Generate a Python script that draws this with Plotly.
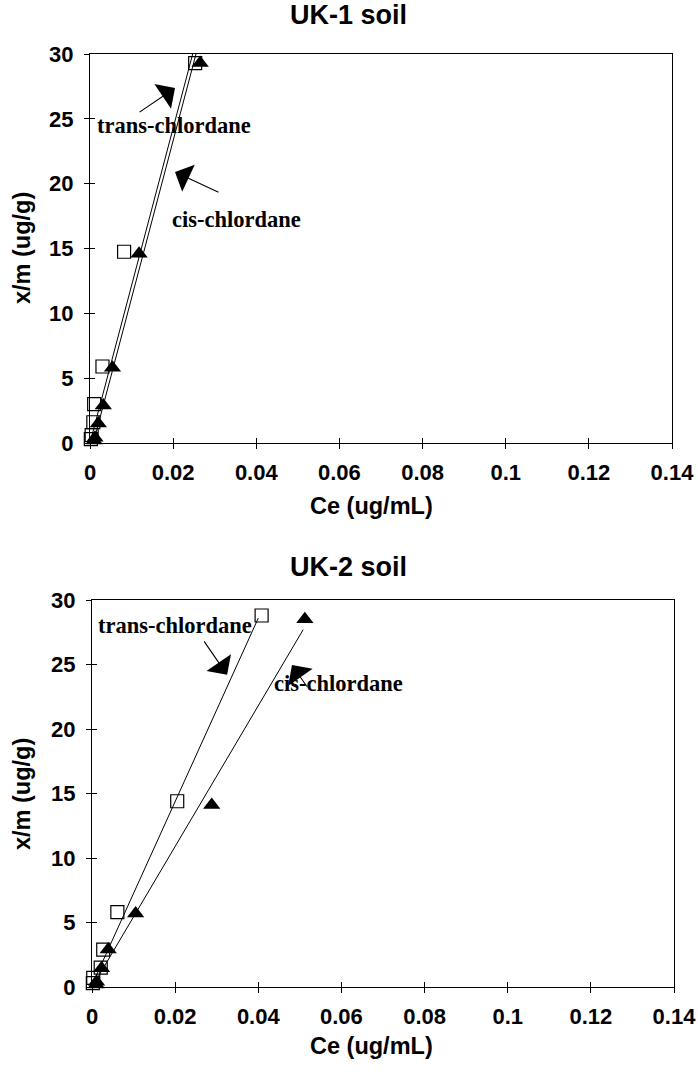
import plotly.graph_objects as go

# ---- data ----
uk1_trans_ce = [0.0002, 0.0004, 0.0008, 0.0010, 0.0030, 0.0082, 0.0253]
uk1_trans_xm = [0.3, 0.6, 1.6, 3.0, 5.9, 14.75, 29.3]
uk1_cis_ce = [0.0010, 0.0012, 0.0020, 0.0032, 0.0054, 0.0118, 0.0265]
uk1_cis_xm = [0.2, 0.4, 1.5, 2.9, 5.8, 14.6, 29.3]
uk1_trans_fit_ce = [0.0, 0.0247]
uk1_trans_fit_xm = [0.0, 30.0]
uk1_cis_fit_ce = [0.0008, 0.0255]
uk1_cis_fit_xm = [0.0, 30.0]

uk2_trans_ce = [0.0002, 0.0003, 0.0021, 0.0027, 0.0061, 0.0205, 0.0408]
uk2_trans_xm = [0.3, 0.7, 1.5, 2.9, 5.8, 14.4, 28.8]
uk2_cis_ce = [0.0010, 0.0011, 0.0023, 0.0039, 0.0105, 0.0288, 0.0512]
uk2_cis_xm = [0.2, 0.4, 1.45, 2.9, 5.7, 14.1, 28.5]
uk2_trans_fit_ce = [0.0, 0.0400]
uk2_trans_fit_xm = [0.15, 28.6]
uk2_cis_fit_ce = [0.0003, 0.0508]
uk2_cis_fit_xm = [0.15, 27.7]

x_ticks = [0, 0.02, 0.04, 0.06, 0.08, 0.1, 0.12, 0.14]
x_ticklabels = ["0", "0.02", "0.04", "0.06", "0.08", "0.1", "0.12", "0.14"]
y_ticks = [0, 5, 10, 15, 20, 25, 30]

W, H = 698, 1072
fig = go.Figure()

def px_x(p):
    return p / W

def px_y(p):
    return 1 - p / H

panels = [
    dict(xa="x", ya="y", xa2="x3", ya2="y3", xd=(90, 672), yd=(54, 443),
         tce=uk1_trans_ce, txm=uk1_trans_xm, cce=uk1_cis_ce, cxm=uk1_cis_xm,
         tfx=uk1_trans_fit_ce, tfy=uk1_trans_fit_xm, cfx=uk1_cis_fit_ce, cfy=uk1_cis_fit_xm),
    dict(xa="x2", ya="y2", xa2="x4", ya2="y4", xd=(92, 674), yd=(600, 987),
         tce=uk2_trans_ce, txm=uk2_trans_xm, cce=uk2_cis_ce, cxm=uk2_cis_xm,
         tfx=uk2_trans_fit_ce, tfy=uk2_trans_fit_xm, cfx=uk2_cis_fit_ce, cfy=uk2_cis_fit_xm),
]

tickfont = dict(family="Liberation Sans, Arial", size=22, color="black", weight="bold")

for i, p in enumerate(panels):
    fig.add_trace(go.Scatter(x=p["tfx"], y=p["tfy"], mode="lines", line=dict(color="black", width=1),
                             xaxis=p["xa"], yaxis=p["ya"], showlegend=False, cliponaxis=True))
    fig.add_trace(go.Scatter(x=p["cfx"], y=p["cfy"], mode="lines", line=dict(color="black", width=1),
                             xaxis=p["xa"], yaxis=p["ya"], showlegend=False, cliponaxis=True))
    fig.add_trace(go.Scatter(x=p["tce"], y=p["txm"], mode="markers",
                             marker=dict(symbol="square-open", size=13, color="black", line=dict(width=1.2)),
                             xaxis=p["xa"], yaxis=p["ya"], showlegend=False, cliponaxis=False))
    fig.add_trace(go.Scatter(x=p["cce"], y=p["cxm"], mode="markers",
                             marker=dict(symbol="triangle-up", size=15, color="black"),
                             xaxis=p["xa"], yaxis=p["ya"], showlegend=False, cliponaxis=False))
    fig.add_trace(go.Scatter(x=[None], y=[None], xaxis=p["xa2"], yaxis=p["ya2"], showlegend=False,
                             hoverinfo="skip"))

    xd = [px_x(p["xd"][0]), px_x(p["xd"][1])]
    yd = [px_y(p["yd"][1]), px_y(p["yd"][0])]
    xn = "xaxis" + ("" if p["xa"] == "x" else p["xa"][1:])
    yn = "yaxis" + ("" if p["ya"] == "y" else p["ya"][1:])
    xn2 = "xaxis" + p["xa2"][1:]
    yn2 = "yaxis" + p["ya2"][1:]
    fig.update_layout(**{
        xn: dict(domain=xd, anchor=p["ya"], range=[0, 0.14], tickvals=x_ticks, ticktext=x_ticklabels,
                 ticks="outside", ticklen=5, tickwidth=1, tickcolor="black",
                 showline=True, linecolor="black", linewidth=1, mirror=True,
                 showgrid=False, zeroline=False, tickfont=tickfont, ticklabelstandoff=5),
        yn: dict(domain=yd, anchor=p["xa"], range=[0, 30], tickvals=y_ticks,
                 ticks="outside", ticklen=5, tickwidth=1, tickcolor="black",
                 showline=True, linecolor="black", linewidth=1, mirror=True,
                 showgrid=False, zeroline=False, tickfont=tickfont, ticklabelstandoff=6),
        xn2: dict(overlaying=p["xa"], anchor=p["ya2"], domain=xd, range=[0, 0.14], tickvals=x_ticks,
                  showticklabels=False, ticks="inside", ticklen=5, tickwidth=1, tickcolor="black",
                  showline=False, showgrid=False, zeroline=False),
        yn2: dict(overlaying=p["ya"], anchor=p["xa2"], domain=yd, range=[0, 30], tickvals=y_ticks,
                  showticklabels=False, ticks="inside", ticklen=5, tickwidth=1, tickcolor="black",
                  showline=False, showgrid=False, zeroline=False),
    })

titlefont = dict(family="Liberation Sans, Arial", size=27, color="black", weight="bold")
axfont = dict(family="Liberation Sans, Arial", size=23.5, color="black", weight="bold")
annfont = dict(family="Liberation Serif, Times New Roman", size=22.5, color="black", weight="bold")

anns = []
for title, ty, cx_y, yt_y in [("UK-1 soil", 15, 506, 248), ("UK-2 soil", 567, 1046, 794)]:
    anns.append(dict(text=title, x=px_x(348), y=px_y(ty), xref="paper", yref="paper",
                     showarrow=False, font=titlefont, xanchor="center", yanchor="middle"))
    anns.append(dict(text="Ce (ug/mL)", x=px_x(371), y=px_y(cx_y), xref="paper", yref="paper",
                     showarrow=False, font=axfont, xanchor="center", yanchor="middle"))
    anns.append(dict(text="x/m (ug/g)", x=px_x(22), y=px_y(yt_y), xref="paper", yref="paper",
                     showarrow=False, font=axfont, xanchor="center", yanchor="middle", textangle=-90))

labels = [
    ("x", "y", "trans-chlordane", 0.0012, 24.5, 0.02045, 27.37, -37, 25),
    ("x", "y", "cis-chlordane", 0.0192, 17.2, 0.02045, 20.9, 45, 21),
    ("x2", "y2", "trans-chlordane", 0.0010, 28.06, 0.0325, 24.2, -24, -35),
    ("x2", "y2", "cis-chlordane", 0.0433, 23.5, 0.0481, 24.96, 16, 23),
]
for xr, yr, txt, tx, ty, ax_x, ax_y, dx, dy in labels:
    anns.append(dict(text=txt, x=tx, y=ty, xref=xr, yref=yr, showarrow=False, font=annfont,
                     xanchor="left", yanchor="middle"))
    anns.append(dict(text="", x=ax_x, y=ax_y, xref=xr, yref=yr, showarrow=True, ax=dx, ay=dy,
                     axref="pixel", ayref="pixel", arrowhead=1, arrowsize=4.5, arrowwidth=1.1,
                     arrowcolor="black"))

fig.update_layout(width=W, height=H, margin=dict(l=0, r=0, t=0, b=0, autoexpand=False),
                  paper_bgcolor="white", plot_bgcolor="white", annotations=anns, showlegend=False)

# remove the browser's default 8px body margin so the figure fills the window
fig.write_html("out.html", config={"displayModeBar": False},
               post_script="document.body.style.margin='0';document.body.style.overflow='hidden';")
